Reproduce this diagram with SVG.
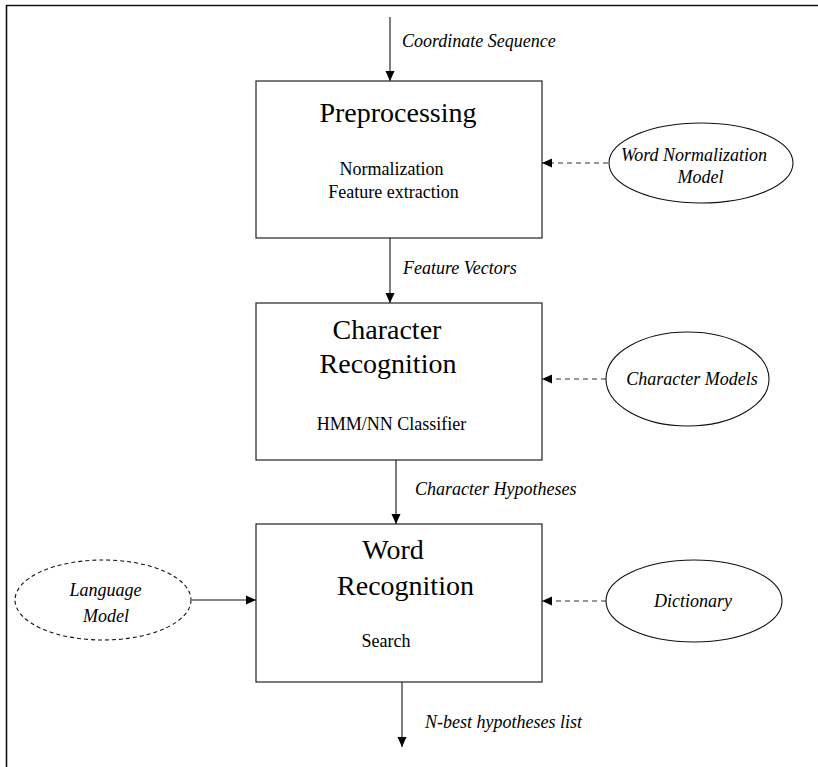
<svg xmlns="http://www.w3.org/2000/svg" width="818" height="767" viewBox="0 0 818 767">
  <defs>
    <marker id="arrow" viewBox="0 0 10 10" refX="10" refY="5" markerWidth="10" markerHeight="10" markerUnits="userSpaceOnUse" orient="auto">
      <path d="M0,0.5 L10,5 L0,9.5 Z" fill="#000"/>
    </marker>
  </defs>
  <style>
    .box { fill: #fff; stroke: #222; stroke-width: 1.2; }
    .oval { fill: #fff; stroke: #111; stroke-width: 1.1; }
    .oval-dash { fill: #fff; stroke: #111; stroke-width: 1.1; stroke-dasharray: 4 3; }
    .edge { fill: none; stroke: #111; stroke-width: 1.1; marker-end: url(#arrow); }
    .edge-dash { fill: none; stroke: #333; stroke-width: 1.1; stroke-dasharray: 5 4; marker-end: url(#arrow); }
    .title { font-family: "Liberation Serif", "Times New Roman", serif; font-size: 28px; fill: #000; }
    .sub { font-family: "Liberation Serif", "Times New Roman", serif; font-size: 18px; fill: #000; }
    .lbl { font-family: "Liberation Serif", "Times New Roman", serif; font-size: 18px; font-style: italic; fill: #000; }
  </style>

  <rect width="818" height="767" fill="#fff"/>
  <!-- page frame: top and left rules -->
  <path d="M6.5,767 L6.5,5.5 L818,5.5" fill="none" stroke="#111" stroke-width="1.6"/>

  <g id="connectors">
    <line class="edge" x1="390" y1="17" x2="390" y2="81"/>
    <line class="edge" x1="390" y1="238" x2="390" y2="303"/>
    <line class="edge" x1="396" y1="460" x2="396" y2="524"/>
    <line class="edge" x1="402" y1="682" x2="402" y2="747"/>
    <line class="edge-dash" x1="608" y1="163" x2="542" y2="163"/>
    <line class="edge-dash" x1="606" y1="379" x2="542" y2="379"/>
    <line class="edge-dash" x1="606" y1="601" x2="542" y2="601"/>
    <line class="edge" x1="192" y1="600" x2="256" y2="600"/>
    <text class="lbl" x="402" y="47">Coordinate Sequence</text>
    <text class="lbl" x="403" y="274">Feature Vectors</text>
    <text class="lbl" x="415" y="495">Character Hypotheses</text>
    <text class="lbl" x="425" y="728">N-best hypotheses list</text>
  </g>

  <g id="preprocessing">
    <rect class="box" x="256" y="81" width="286" height="157"/>
    <text class="title" x="398" y="122" text-anchor="middle">Preprocessing</text>
    <text class="sub" x="391.5" y="175" text-anchor="middle">Normalization</text>
    <text class="sub" x="393.5" y="198" text-anchor="middle">Feature extraction</text>
  </g>

  <g id="character-recognition">
    <rect class="box" x="256" y="303" width="286" height="157"/>
    <text class="title" x="387" y="339" text-anchor="middle">Character</text>
    <text class="title" x="388" y="373" text-anchor="middle">Recognition</text>
    <text class="sub" x="391.5" y="430" text-anchor="middle">HMM/NN Classifier</text>
  </g>

  <g id="word-recognition">
    <rect class="box" x="256" y="524" width="286" height="158"/>
    <text class="title" x="393" y="559" text-anchor="middle">Word</text>
    <text class="title" x="405.5" y="595" text-anchor="middle">Recognition</text>
    <text class="sub" x="386" y="647" text-anchor="middle">Search</text>
  </g>

  <g id="word-normalization-model">
    <ellipse class="oval" cx="701" cy="163" rx="92" ry="40"/>
    <text class="lbl" x="694" y="161" text-anchor="middle">Word Normalization</text>
    <text class="lbl" x="700.5" y="183" text-anchor="middle">Model</text>
  </g>

  <g id="character-models">
    <ellipse class="oval" cx="687.5" cy="379" rx="81.5" ry="47"/>
    <text class="lbl" x="692" y="385" text-anchor="middle">Character Models</text>
  </g>

  <g id="dictionary">
    <ellipse class="oval" cx="694" cy="601" rx="88" ry="41"/>
    <text class="lbl" x="693" y="607" text-anchor="middle">Dictionary</text>
  </g>

  <g id="language-model">
    <ellipse class="oval-dash" cx="103" cy="600" rx="88" ry="40"/>
    <text class="lbl" x="105.5" y="596" text-anchor="middle">Language</text>
    <text class="lbl" x="106" y="622" text-anchor="middle">Model</text>
  </g>
</svg>
